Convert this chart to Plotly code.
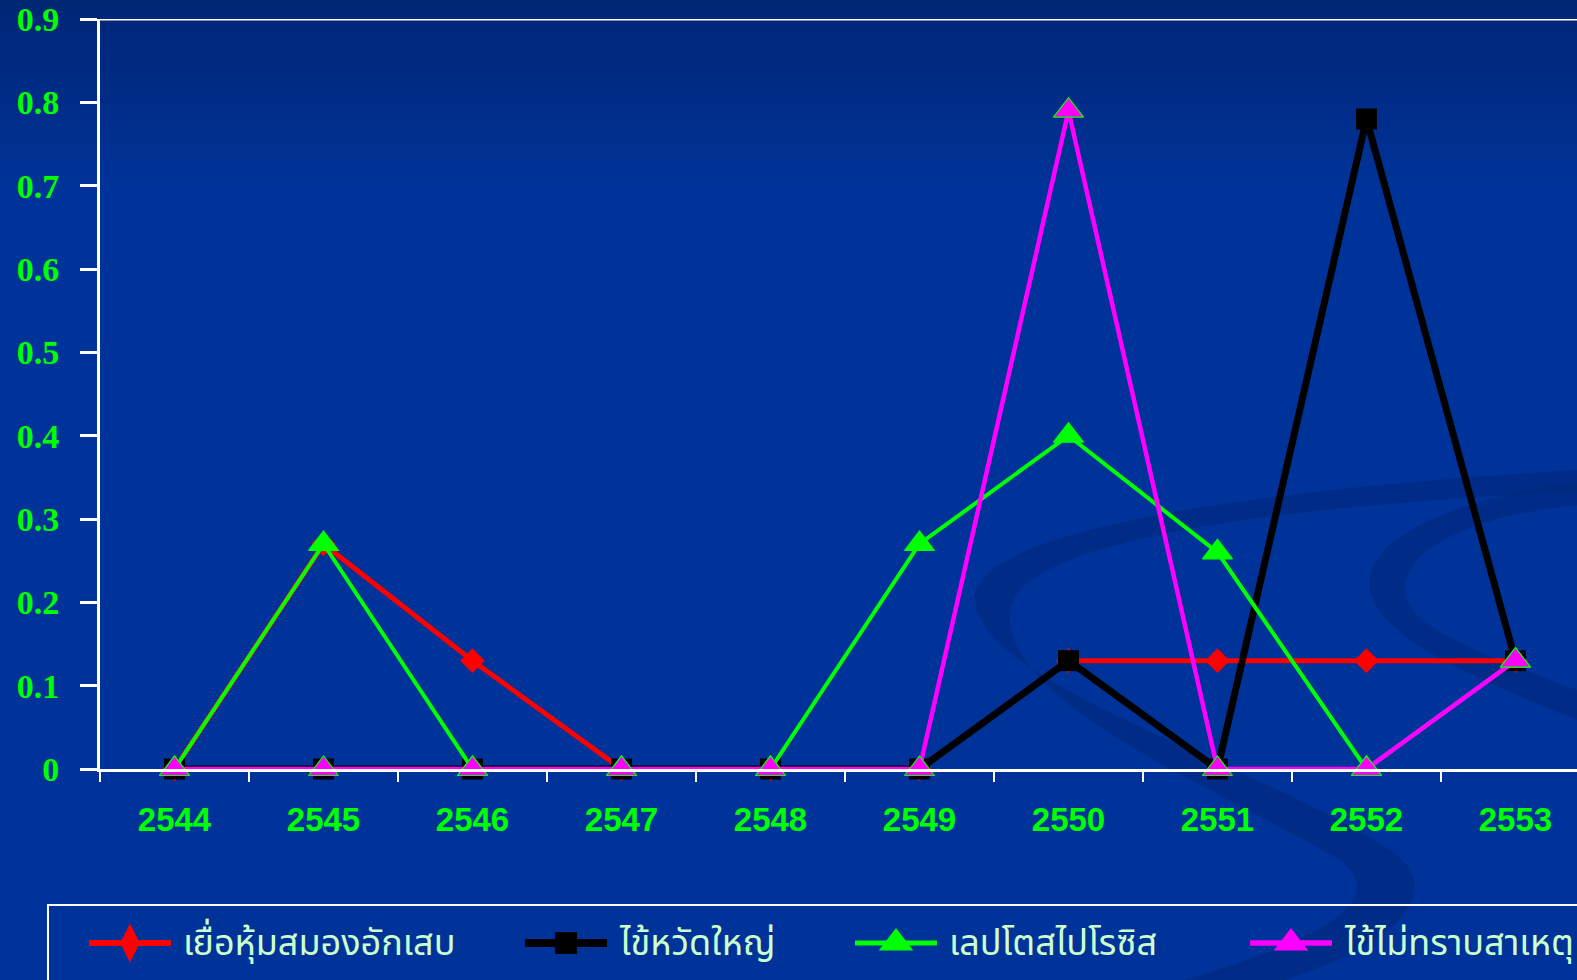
import plotly.graph_objects as go

years = ["2544", "2545", "2546", "2547", "2548", "2549", "2550", "2551", "2552", "2553"]
meningitis = [0, 0.27, 0.13, 0, 0, 0, 0.13, 0.13, 0.13, 0.13]
influenza = [0, 0, 0, 0, 0, 0, 0.13, 0, 0.78, 0.13]
lepto = [0, 0.27, 0, 0, 0, 0.27, 0.40, 0.26, 0, 0.13]
fever_unknown = [0, 0, 0, 0, 0, 0, 0.79, 0, 0, 0.13]

names = ["เยื่อหุ้มสมองอักเสบ", "ไข้หวัดใหญ่", "เลปโตสไปโรซิส", "ไข้ไม่ทราบสาเหตุ"]
colors = ["#ff0000", "#000000", "#00ff00", "#ff00ff"]
symbols = ["diamond", "square", "triangle-up", "triangle-up"]
leg_symbols = ["diamond-tall", "square", "triangle-up", "triangle-up"]
widths = [5, 7, 4, 4.5]
msizes = [19, 21, 26, 26]
leg_msizes = [28, 22, 30, 30]
mlines = [None, None, "#00ff00", "#00ff00"]
series = [meningitis, influenza, lepto, fever_unknown]

W, H = 1577, 980
fig = go.Figure()

for s, n, c, sym, w, ms, ml in zip(series, names, colors, symbols, widths, msizes, mlines):
    fig.add_trace(go.Scatter(
        x=years, y=s, name=n, mode="lines+markers",
        line=dict(color=c, width=w),
        marker=dict(symbol=sym, size=ms, color=c,
                    line=dict(color=ml or c, width=1.2 if ml else 0)),
        cliponaxis=False, showlegend=False, xaxis="x", yaxis="y",
    ))

# manual legend drawn on an overlay pixel axis
leg_x = [89, 525, 855, 1250]
leg_len = 82
leg_y = 943
for n, c, sym, w, ms, lx in zip(names, colors, leg_symbols, widths, leg_msizes, leg_x):
    fig.add_trace(go.Scatter(
        x=[lx, lx + leg_len], y=[leg_y, leg_y], mode="lines",
        line=dict(color=c, width=w + 1), showlegend=False, hoverinfo="skip",
        xaxis="x2", yaxis="y2",
    ))
    fig.add_trace(go.Scatter(
        x=[lx + leg_len / 2], y=[leg_y], mode="markers",
        marker=dict(symbol=sym, size=ms, color=c), showlegend=False,
        hoverinfo="skip", xaxis="x2", yaxis="y2",
    ))
    fig.add_annotation(
        x=lx + leg_len + 10, y=leg_y + 1, xref="x2", yref="y2", text=n,
        showarrow=False, xanchor="left", yanchor="middle",
        font=dict(family="Noto Sans Thai, Noto Serif Thai, Loma, Garuda, Norasi, sans-serif",
                  size=36, color="#ccffcc"),
    )


def py(p):
    return 1 - p / H


def px(p):
    return p / W


shapes = []
# background gradient at the top
top_c = (0, 38, 118)
bot_c = (0, 51, 153)
n_steps = 24
band = 8
for i in range(n_steps):
    t = i / (n_steps - 1)
    r = int(top_c[0] + (bot_c[0] - top_c[0]) * t)
    g = int(top_c[1] + (bot_c[1] - top_c[1]) * t)
    b = int(top_c[2] + (bot_c[2] - top_c[2]) * t)
    shapes.append(dict(type="rect", xref="paper", yref="paper", x0=0, x1=1,
                       y0=py((i + 1) * band), y1=py(i * band),
                       fillcolor=f"rgb({r},{g},{b})", line=dict(width=0), layer="below"))


def curve(points, start=True):
    (x0, y0) = points[0]
    s = (f"M {px(x0)} {py(y0)}" if start else f" L {px(x0)} {py(y0)}")
    rest = points[1:]
    for k in range(0, len(rest), 3):
        (a, b), (c, d), (e, f) = rest[k:k + 3]
        s += f" C {px(a)} {py(b)}, {px(c)} {py(d)}, {px(e)} {py(f)}"
    return s


# decorative swirl 1 (big S)
outer = [(1577, 470), (1250, 490), (960, 530), (975, 605), (995, 690), (1250, 760), (1390, 850),
         (1450, 890), (1400, 950), (1250, 990)]
inner = [(1150, 990), (1330, 940), (1390, 900), (1340, 860), (1200, 780), (1000, 700), (1010, 610),
         (1020, 540), (1280, 505), (1577, 492)]
p1 = curve(outer) + curve(inner, start=False) + " Z"
shapes.append(dict(type="path", xref="paper", yref="paper", layer="below", path=p1,
                   fillcolor="rgba(0,38,120,0.5)", line=dict(width=0)))
# swirl 2 (right)
outer2 = [(1577, 482), (1450, 500), (1360, 540), (1370, 590), (1380, 640), (1480, 680), (1577, 720)]
inner2 = [(1577, 690), (1500, 660), (1405, 630), (1405, 590), (1405, 545), (1480, 515), (1577, 505)]
p2 = curve(outer2) + curve(inner2, start=False) + " Z"
shapes.append(dict(type="path", xref="paper", yref="paper", layer="below", path=p2,
                   fillcolor="rgba(0,38,120,0.5)", line=dict(width=0)))

# top frame line at 0.9
shapes.append(dict(type="line", xref="x domain", yref="y", x0=0, x1=1, y0=0.9, y1=0.9,
                   line=dict(color="white", width=3), layer="above"))
# legend box
shapes.append(dict(type="rect", xref="paper", yref="paper", x0=px(48), x1=1.05,
                   y0=-0.05, y1=py(905),
                   line=dict(color="white", width=2), fillcolor="rgba(0,0,0,0)"))

fig.update_layout(
    template="none",
    width=W, height=H,
    margin=dict(l=0, r=0, t=0, b=0, pad=0, autoexpand=False),
    paper_bgcolor="rgb(0,51,153)",
    plot_bgcolor="rgba(0,0,0,0)",
    shapes=shapes,
    xaxis=dict(
        domain=[100 / W, 1], type="category", range=[-0.5, 9.413],
        tickson="boundaries", ticks="outside", ticklen=10, tickwidth=2, tickcolor="white",
        showline=True, linecolor="white", linewidth=3, showgrid=False, zeroline=False,
        tickfont=dict(family="Liberation Sans", size=33, color="#00ff00", weight="bold"),
        ticklabelstandoff=19, anchor="y", automargin=False,
    ),
    yaxis=dict(
        domain=[(H - 769) / H, (H - 19) / H], range=[0, 0.9], dtick=0.1, tick0=0,
        ticks="outside", ticklen=17, tickwidth=3, tickcolor="white",
        showline=True, linecolor="white", linewidth=3, showgrid=False, zeroline=False,
        tickfont=dict(family="Liberation Serif", size=34, color="#00ff00", weight="bold"),
        ticklabelstandoff=14, anchor="x", automargin=False,
    ),
    xaxis2=dict(domain=[0, 1], range=[0, W], visible=False, anchor="y2", fixedrange=True,
                automargin=False),
    yaxis2=dict(domain=[0, (H - 899) / H], range=[H, 899], visible=False, anchor="x2",
                fixedrange=True, automargin=False),
    showlegend=False,
)

fig.write_html("out.html", config={"displayModeBar": False},
               post_script="document.body.style.margin='0';document.body.style.overflow='hidden';")
